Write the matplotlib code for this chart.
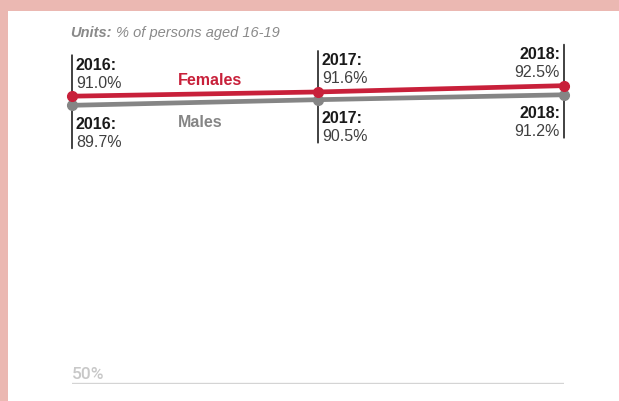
import matplotlib.pyplot as plt
from matplotlib.patches import Rectangle

# dane
years = [2016, 2017, 2018]
females = [91.0, 91.6, 92.5]
males = [89.7, 90.5, 91.2]

RED = '#c8203a'
GRAY = '#858585'
PINK = '#ebb8b2'

plt.rcParams['font.family'] = ['Liberation Sans', 'DejaVu Sans']

W, H = 619, 401
fig = plt.figure(figsize=(W / 100, H / 100), dpi=100)
fig.patch.set_facecolor(PINK)
fig.patches.append(Rectangle((8 / W, 0), 1, 1 - 11 / H, transform=fig.transFigure,
                             facecolor='white', edgecolor='none', zorder=-5))

# osie w pikselach: 2016 -> x=72, 2018 -> x=564, 50% -> y=384, 7 px na punkt proc.
left, right = 72, 564
bottom = 384
ax = fig.add_axes([left / W, (H - bottom) / H, (right - left) / W, 50 * 7.02 / H])
ax.set_xlim(2016, 2018)
ax.set_ylim(50, 100)
ax.axis('off')
ax.patch.set_alpha(0)

ax.axhline(50, color='#d4d4d4', lw=2.4, zorder=1)
ax.annotate('50%', xy=(2016, 50), xytext=(0, 5), textcoords='offset pixels',
            ha='left', va='baseline', fontsize=12.5, fontweight='medium',
            family='Roboto', color='#c8c8c8')

ax.plot(years, males, color=GRAY, lw=3.4, marker='o', ms=7, clip_on=False, zorder=4)
ax.plot(years, females, color=RED, lw=3.4, marker='o', ms=7, clip_on=False, zorder=5)


def label(x, y, up, ha):
    dx = 4 if ha == 'left' else -4
    if up:
        bar, y1, y2 = 41, 31, 13
    else:
        bar, y1, y2 = -43, -19, -37
    ax.annotate('', xy=(x, y), xytext=(0, bar), textcoords='offset pixels',
                arrowprops=dict(arrowstyle='-', lw=1.3, color='#333333',
                                shrinkA=0, shrinkB=0), zorder=2)
    ax.annotate(f'{x}:', xy=(x, y), xytext=(dx, y1), textcoords='offset pixels',
                ha=ha, va='center', fontsize=11.5, fontweight='bold', color='#1a1a1a')
    ax.annotate(f'{y:.1f}%', xy=(x, y), xytext=(dx, y2), textcoords='offset pixels',
                ha=ha, va='center', fontsize=11.5, color='#404040')


for i, yr in enumerate(years):
    ha = 'right' if i == len(years) - 1 else 'left'
    label(yr, females[i], True, ha)
    label(yr, males[i], False, ha)

ax.text(2016.43, 93.3, 'Females', color=RED, fontsize=11.5, fontweight='bold',
        ha='left', va='center')
ax.text(2016.43, 87.3, 'Males', color=GRAY, fontsize=11.5, fontweight='bold',
        ha='left', va='center')

fig.text(70 / W, 1 - 33 / H, 'Units:', color='#8a8a8a', fontsize=10.5,
         fontweight='bold', style='italic', ha='left', va='center')
fig.text(116 / W, 1 - 33 / H, '% of persons aged 16-19', color='#8a8a8a',
         fontsize=10.5, style='italic', ha='left', va='center')

fig.savefig('out.png', dpi=100, facecolor=fig.get_facecolor())
